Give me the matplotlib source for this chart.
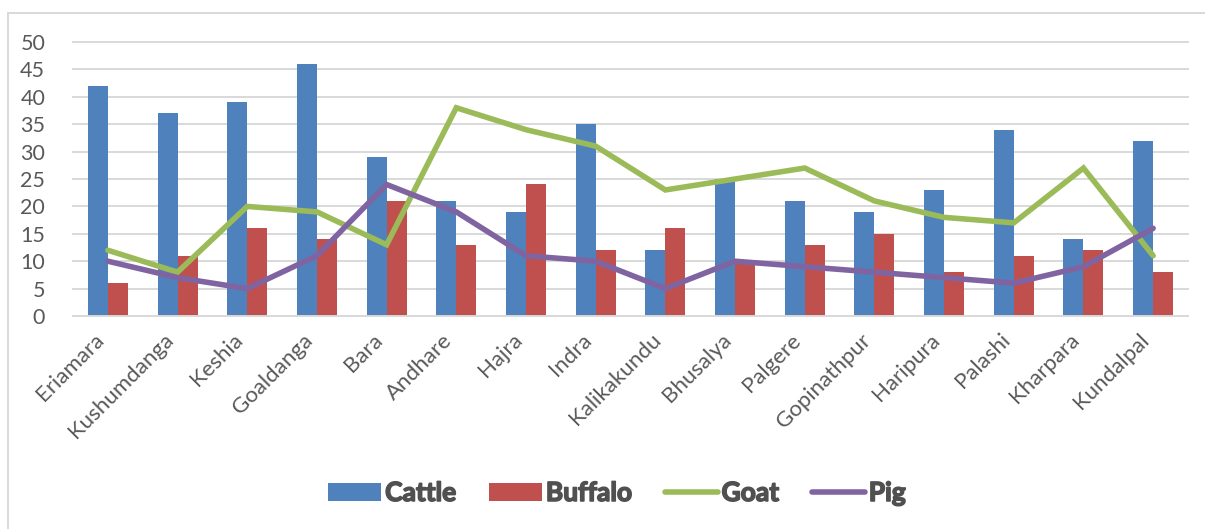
import numpy as np
import matplotlib
matplotlib.use("Agg")
import matplotlib.pyplot as plt
import matplotlib.patheffects as pe
from matplotlib.lines import Line2D
from matplotlib.patches import Patch

villages = ["Eriamara", "Kushumdanga", "Keshia", "Goaldanga", "Bara", "Andhare",
            "Hajra", "Indra", "Kalikakundu", "Bhusalya", "Palgere", "Gopinathpur",
            "Haripura", "Palashi", "Kharpara", "Kundalpal"]
cattle = [42, 37, 39, 46, 29, 21, 19, 35, 12, 25, 21, 19, 23, 34, 14, 32]
buffalo = [6, 11, 16, 14, 21, 13, 24, 12, 16, 10, 13, 15, 8, 11, 12, 8]
goat = [12, 8, 20, 19, 13, 38, 34, 31, 23, 25, 27, 21, 18, 17, 27, 11]
pig = [10, 7, 5, 11, 24, 19, 11, 10, 5, 10, 9, 8, 7, 6, 9, 16]
y_ticks = [0, 5, 10, 15, 20, 25, 30, 35, 40, 45, 50]

C_CATTLE = "#4F81BD"
C_BUFFALO = "#C0504D"
C_GOAT = "#9BBB59"
C_PIG = "#8064A2"
TXT = "#595959"
GRID = "#D9D9D9"

plt.rcParams["font.family"] = ["Lato", "DejaVu Sans"]

W, H = 1205, 529
fig = plt.figure(figsize=(W / 100, H / 100), dpi=100)
ax = fig.add_axes([73 / W, 1 - 316 / H, (1188 - 73) / W, (316 - 42) / H])

x = np.arange(len(villages))
bw = 0.287
ax.bar(x - bw / 2, cattle, bw, color=C_CATTLE, zorder=2)
ax.bar(x + bw / 2, buffalo, bw, color=C_BUFFALO, zorder=2)
ax.plot(x, goat, color=C_GOAT, lw=4, solid_joinstyle="miter", solid_capstyle="round", zorder=3)
ax.plot(x, pig, color=C_PIG, lw=4, solid_joinstyle="miter", solid_capstyle="round", zorder=4)

ax.set_xlim(-0.5, len(villages) - 0.5)
ax.set_ylim(0, 50)
ax.set_yticks(y_ticks)
ax.set_yticklabels([str(v) for v in y_ticks], fontsize=15.5, color=TXT)
ax.set_xticks(x)
ax.set_xticklabels(villages, rotation=45, ha="right", rotation_mode="default",
                   fontsize=16, color=TXT)
ax.tick_params(axis="both", length=0)
ax.tick_params(axis="y", pad=20)
ax.tick_params(axis="x", pad=10)
ax.yaxis.grid(True, color=GRID, lw=1.4, zorder=0)
ax.set_axisbelow(True)
for s in ["top", "right", "left"]:
    ax.spines[s].set_visible(False)
ax.spines["bottom"].set_color(GRID)
ax.spines["bottom"].set_linewidth(1.4)
for gl in ax.yaxis.get_gridlines():
    gl.set_clip_on(False)

# chart frame
fig.add_artist(Line2D([8 / W, 8 / W], [0, 1 - 13 / H], transform=fig.transFigure,
                      color=GRID, lw=1.4))
fig.add_artist(Line2D([8 / W, 1], [1 - 13 / H, 1 - 13 / H], transform=fig.transFigure,
                      color=GRID, lw=1.4))

handles = [Patch(facecolor=C_CATTLE, label="Cattle"),
           Patch(facecolor=C_BUFFALO, label="Buffalo"),
           Line2D([], [], color=C_GOAT, lw=4, solid_capstyle="round", label="Goat"),
           Line2D([], [], color=C_PIG, lw=4, solid_capstyle="round", label="Pig")]
leg = fig.legend(handles=handles, loc="center", bbox_to_anchor=(617 / W, 1 - 493 / H),
                 ncol=4, frameon=False, handlelength=2.0, handleheight=0.65,
                 handletextpad=0.15, columnspacing=1.25,
                 prop={"weight": "bold", "size": 19})
for t in leg.get_texts():
    t.set_color("#505050")
    # heavier strokes for the legend labels
    t.set_path_effects([pe.withStroke(linewidth=1.1, foreground="#505050")])

fig.savefig("out.png", dpi=100, facecolor="white")
